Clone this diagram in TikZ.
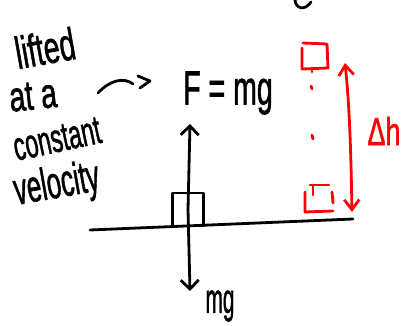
\documentclass[tikz,border=0pt]{standalone}
\usepackage{fontspec}
\setmainfont{Liberation Sans}
\newfontfamily\handfont[FakeBold=1.6]{Liberation Sans}
\usetikzlibrary{arrows.meta}
\begin{document}
\begin{tikzpicture}[x=1pt,y=1pt,
  ink/.style={line width=2.8pt, line cap=round, line join=round},
  redink/.style={ink, draw=red},
  barb/.style={-{Straight Barb[length=9pt,width=18pt]}},
  redbarbs/.style={{Straight Barb[length=10pt,width=15pt]}-{Straight Barb[length=10pt,width=15pt]}},
  hand/.style={inner sep=0pt, font=\handfont\fontsize{30}{32}\selectfont},
]
\useasboundingbox (0,0) rectangle (402,-326);

% handwritten notes
\node[hand, rotate=10] (lifted) at (45,-48) {\scalebox{0.95}[1.5]{lifted}};
\node[hand, rotate=6] (ata) at (33,-96) {\scalebox{0.95}[1.4]{at a}};
\node[hand, rotate=12] (constant) at (57,-139) {\scalebox{0.78}[1.35]{constant}};
\node[hand, rotate=10] (velocity) at (57,-186) {\scalebox{0.86}[1.5]{velocity}};

% force label
\node[hand] (F) at (228,-93) {\scalebox{0.95}[1.6]{F = mg}};

% curved pointer
\coordinate (c1) at (98,-93);
\coordinate (c2) at (133,-84);
\draw[ink] (c1) .. controls (110,-80) and (124,-77) .. (c2);
\coordinate (h1) at (138,-76);
\coordinate (h2) at (150,-81);
\coordinate (h3) at (140,-88);
\draw[ink] (h1) -- (h2) -- (h3);

% ground and block
\coordinate (gl) at (90,-230);
\coordinate (gr) at (353,-219);
\draw[ink] (gl) -- (gr);
\node[ink, draw, minimum width=31pt, minimum height=33pt, inner sep=0pt] (block) at (188,-209.5) {};

% forces
\coordinate (upTip) at (190,-124);
\coordinate (downTip) at (190,-291);
\draw[ink, barb] (block.center) -- (upTip);
\draw[ink, barb] (block.center) -- (downTip);
\node[hand, font=\handfont\fontsize{26}{28}\selectfont] (mg) at (220,-306) {\scalebox{0.8}[1.6]{mg}};

% stray stroke at top
\coordinate (s1) at (295,0);
\coordinate (s2) at (311,-2);
\draw[ink] (s1) .. controls (296,-9) and (305,-11) .. (s2);

% red positions
\draw[redink] (302,-48) -- (302,-69) -- (328,-68) -- (327,-44) -- (303,-43);
\draw[redink] (312,-68) -- (312,-72);
\draw[redink] (311,-86) -- (312,-89);
\draw[redink] (312,-135) -- (313,-139);
\draw[redink] (310,-185) -- (329,-185);
\draw[redink] (313,-185) -- (313,-195);
\draw[redink] (305,-192) -- (305,-212) -- (333,-211);
\draw[redink] (332,-192) -- (333,-203);

% red height arrow
\coordinate (dhTop) at (345,-63);
\coordinate (dhBot) at (352,-212);
\draw[redink, redbarbs] (dhTop) .. controls (350,-110) and (351,-160) .. (dhBot);
\node[hand, text=red] (dh) at (384,-131) {\scalebox{0.9}[1.3]{Δh}};
\end{tikzpicture}
\end{document}
